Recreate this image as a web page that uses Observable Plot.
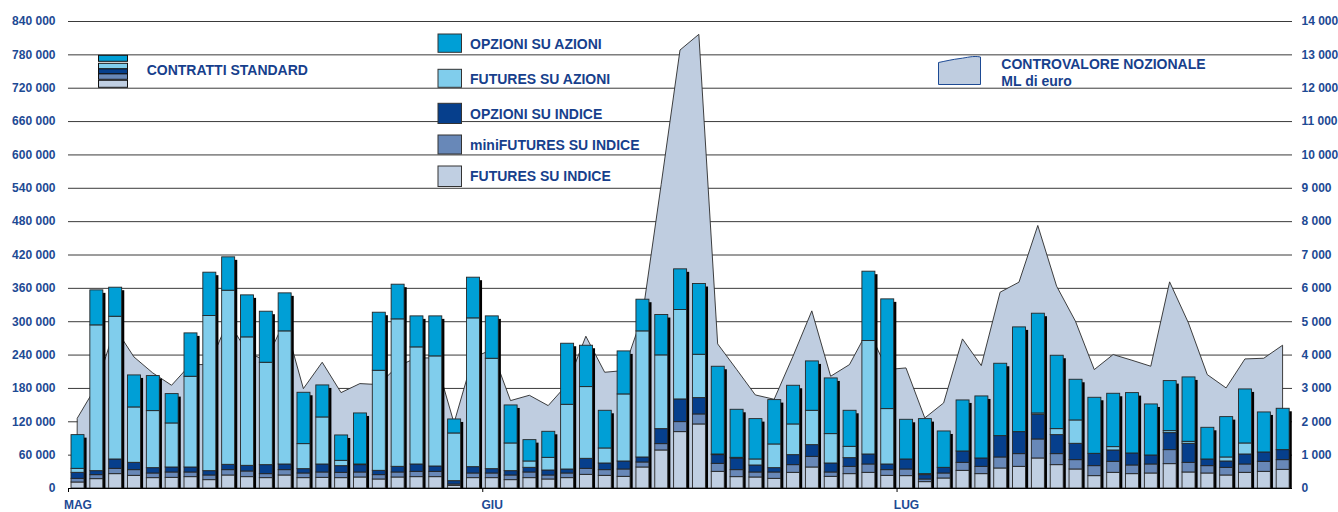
<!DOCTYPE html>
<html><head><meta charset="utf-8">
<script src="https://cdn.jsdelivr.net/npm/d3@7"></script>
<script src="https://cdn.jsdelivr.net/npm/@observablehq/plot@0.6"></script>
<style>
body{margin:0;background:#fff;}
#wrap{position:relative;width:1338px;height:512px;font-family:"Liberation Sans",Arial,sans-serif;}
#wrap svg{display:block;}
#legend{position:absolute;left:0;top:0;pointer-events:none;}
</style></head><body><div id="wrap"></div>
<script>
// ---- data ----
const months = ["MAG", "GIU", "LUG"];
const monthStart = [0, 22, 44];
const seriesNames = ["FUTURES SU INDICE", "miniFUTURES SU INDICE", "OPZIONI SU INDICE", "FUTURES SU AZIONI", "OPZIONI SU AZIONI"];
const seriesColors = ["#c0cfe2", "#6888b8", "#063f8c", "#80cdec", "#009fd6"];
const futuresIndice = [10800,16800,25800,22800,18600,19200,20400,15000,23400,20400,
 18600,23400,18600,19200,18600,19800,16200,19800,20400,20400,
 4800,18600,18600,15000,18600,16200,18600,24600,22800,21000,
 37800,68400,101400,115200,30000,20400,19800,17400,28200,37800,
 21000,25800,28200,22800,22200,11400,18000,31800,25800,36000,
 39000,54000,42000,34200,22200,28200,25800,27000,43800,28800,
 27000,23400,28200,30000,33600];
const miniFuturesIndice = [6600,7200,9600,10200,8400,9600,8400,8400,9600,10200,
 7200,9600,8400,9600,9600,9000,7800,9000,9600,9600,
 2400,8400,8400,8400,10200,7200,8400,10800,10200,13200,
 9000,11400,18000,18000,14400,12600,9000,11400,13800,19200,
 7800,13200,15000,10200,12000,4800,9000,14400,13200,19800,
 22800,34200,19800,16800,18000,19800,15600,16200,25200,17400,
 13200,13800,15000,18000,17400];
const opzioniIndice = [10800,7200,16800,13200,9600,9000,9000,7800,9600,10200,
 16200,10200,7800,14400,12000,13200,7800,10200,13200,9600,
 6000,11400,7800,7800,8400,9000,7200,18000,12000,14400,
 9000,27000,40800,29400,15600,21000,12600,7800,18000,21000,
 16200,15600,18000,10200,18000,7800,10200,20400,15000,38400,
 39600,44400,34200,29400,22200,20400,21600,16200,30600,34200,
 12000,11400,18000,16800,18000];
const futuresAzioni = [7200,262200,256800,99600,102600,79200,163200,279000,313200,231000,
 184200,239400,45000,84600,9600,1200,180000,265200,210600,198000,
 85800,267600,198600,49800,11400,22800,116400,129000,27000,120600,
 226800,132600,160800,78000,1200,1200,10800,42600,55200,61800,
 52800,20400,204000,99600,0,1800,0,0,0,0,
 0,2400,10800,42000,0,6000,0,0,3600,3600,
 0,7200,19800,0,0];
const opzioniAzioni = [60600,63000,52200,57600,63000,52800,78000,78000,60000,75600,
 91800,68400,92400,57600,45600,91800,104400,62400,55800,72000,
 25200,73200,76200,68400,38400,46800,109800,74400,67800,77400,
 57000,72600,73200,127200,157800,86400,72600,79800,69600,88800,
 100200,64800,124800,197400,71400,99000,65400,91800,111600,130200,
 188400,179400,132000,73200,100800,96000,108600,91800,90000,115800,
 57000,72600,97200,72000,74400];
// controvalore nozionale, ML di euro (right axis)
const controvalore = [2100,3050,4800,3930,3450,3080,3700,3700,5000,4100,
 3800,5000,2980,3770,2860,3130,3100,3650,3900,3900,
 1950,3900,4150,2620,2780,2470,3100,4550,3470,3520,
 5150,9100,13130,13600,4320,3560,2790,2660,3950,5310,
 3350,3700,4750,3550,3600,2100,2550,4470,3670,5870,
 6170,7870,6050,5000,3550,4000,3830,3650,6180,4950,
 3400,3000,3870,3890,4280];
const leftTicks = [0,60000,120000,180000,240000,300000,360000,420000,480000,540000,600000,660000,720000,780000,840000];
const rightTicks = [0,1000,2000,3000,4000,5000,6000,7000,8000,9000,10000,11000,12000,13000,14000];

// ---- build tables ----
const ratio = leftTicks[leftTicks.length-1] / rightTicks[rightTicks.length-1];
const seriesValues = [futuresIndice, miniFuturesIndice, opzioniIndice, futuresAzioni, opzioniAzioni];
const nDays = futuresIndice.length;
const segs = [], totals = [];
for (let i = 0; i < nDays; i++) {
  let acc = 0;
  seriesValues.forEach((vals, k) => {
    segs.push({i, s: seriesNames[k], y1: acc, y2: acc + vals[i]});
    acc += vals[i];
  });
  totals.push({i, total: acc});
}
const area = controvalore.map((v, i) => ({i, v}));
const fmt = d3.formatLocale({decimal: ",", thousands: " ", grouping: [3], currency: ["", ""]}).format(",");
const bx1 = d => d.i + 0.16, bx2 = d => d.i + 0.85;
const axisColor = "#1d4a94";

const chart = Plot.plot({
  width: 1338, height: 512,
  marginLeft: 68, marginRight: 46, marginTop: 21, marginBottom: 24,
  x: {type: "linear", domain: [0, nDays]},
  y: {domain: [0, 840000]},
  color: {domain: seriesNames, range: seriesColors},
  style: {fontFamily: '"Liberation Sans", Arial, sans-serif', fontSize: "12px", fontWeight: "bold", background: "white", color: axisColor, overflow: "visible"},
  marks: [
    Plot.gridY({ticks: leftTicks, stroke: "#3a3a3a", strokeOpacity: 1, strokeWidth: 1}),
    Plot.areaY(area, {x: d => d.i + 0.5, y1: 0, y2: d => d.v * ratio, fill: "#bfcde0", stroke: "#2a2a2a", strokeWidth: 0.9}),
    Plot.rect(totals, {x1: bx1, x2: bx2, y1: 0, y2: "total", dx: 2.6, dy: 3, insetBottom: 3, fill: "#000"}),
    Plot.rect(segs, {x1: bx1, x2: bx2, y1: "y1", y2: "y2", fill: "s", stroke: "#262626", strokeWidth: 0.9}),
    Plot.ruleY([0], {stroke: "#000", strokeWidth: 1.2}),
    Plot.axisY({anchor: "left", ticks: leftTicks, tickFormat: fmt, tickSize: 0, tickPadding: 13, color: axisColor}),
    Plot.axisY({anchor: "right", ticks: rightTicks.map(t => t * ratio), tickFormat: d => fmt(Math.round(d / ratio)), tickSize: 0, tickPadding: 9, color: axisColor}),
    Plot.axisX({ticks: monthStart, tickSize: 4, tickFormat: () => "", stroke: "#000"}),
    Plot.axisX({ticks: monthStart.map(m => m + 0.5), tickSize: 0, tickPadding: 12, tickFormat: d => months[monthStart.indexOf(d - 0.5)], fontSize: 12, color: axisColor})
  ]
});
const wrap = document.getElementById("wrap");
wrap.appendChild(chart);

// ---- legends (overlay) ----
const ns = "http://www.w3.org/2000/svg";
const lg = document.createElementNS(ns, "svg");
lg.setAttribute("id", "legend");
lg.setAttribute("width", 1338); lg.setAttribute("height", 512);
const txtColor = "#173f8c";
function el(tag, attrs, text) {
  const e = document.createElementNS(ns, tag);
  for (const k in attrs) e.setAttribute(k, attrs[k]);
  if (text != null) e.textContent = text;
  lg.appendChild(e);
  return e;
}
function label(x, y, t) {
  el("text", {x, y, fill: txtColor, "font-size": 14, "font-weight": "bold", "font-family": '"Liberation Sans", Arial, sans-serif'}, t);
}
// left legend icon (stacked)
const iconRows = [[80.3, 87.3, 0], [73.7, 79.3, 1], [68.7, 73.7, 2], [63.3, 68.7, 3], [55.3, 61.3, 4]];
iconRows.forEach(([a, b, k]) => el("rect", {x: 98.5, y: a, width: 29, height: b - a, fill: seriesColors[k], stroke: "#111", "stroke-width": 1}));
label(146.7, 75, "CONTRATTI STANDARD");
// middle legend
const midRows = [[34, 52.3, 4, 49.3], [69.3, 87.3, 3, 84.3], [103.3, 123.5, 2, 118.7], [135, 154, 1, 150], [166, 186.5, 0, 181]];
midRows.forEach(([a, b, k, base]) => {
  el("rect", {x: 438, y: a, width: 23.5, height: b - a, fill: seriesColors[k], stroke: "#333", "stroke-width": 1});
  label(470, base, seriesNames[k]);
});
// right legend
el("path", {d: "M938.5,62.5 C946,61 952,59.5 960,58.5 C967,57.7 973,55.5 980.5,57 L980.5,84.5 L938.5,84.5 Z", fill: "#bfcde0", stroke: "#1d4a94", "stroke-width": 1});
label(1001.3, 69, "CONTROVALORE NOZIONALE");
label(1001.3, 86, "ML di euro");
wrap.appendChild(lg);
</script>
</body></html>
